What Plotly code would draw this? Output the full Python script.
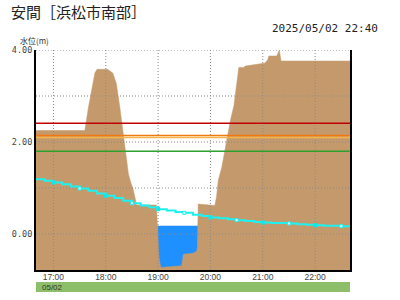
import plotly.graph_objects as go
import pandas as pd

DAY = "2025-05-02 "

# Brown profile (m)
bank_times = ["16:40", "17:36", "17:40", "17:44", "17:47:30", "17:50", "18:02", "18:08", "18:12", "18:16",
              "18:19", "18:22", "18:26", "18:29", "18:31", "18:34", "18:35", "18:58", "18:59:30", "19:01",
              "19:03", "19:17:30", "19:27", "19:29", "19:40", "19:44", "19:45", "19:46", "20:05", "20:07",
              "20:09", "20:13", "20:16", "20:19", "20:23", "20:27", "20:29", "20:31", "20:32:30", "20:38",
              "20:40", "20:57", "21:02", "21:05:30", "21:07", "21:16", "21:19", "21:20", "21:21", "22:40"]
bank_levels = [2.25, 2.25, 2.74, 3.13, 3.50, 3.58, 3.58, 3.50, 3.28, 2.77,
               2.33, 1.80, 1.30, 1.10, 1.00, 0.75, 0.63, 0.63, 0.0, -0.5,
               -0.73, -0.71, -0.69, -0.44, -0.42, -0.38, -0.30, 0.65, 0.62, 0.81,
               1.17, 1.45, 1.75, 2.10, 2.48, 2.80, 3.06, 3.42, 3.62, 3.62,
               3.65, 3.70, 3.71, 3.78, 3.87, 3.87, 4.0, 3.87, 3.76, 3.76]

# Blue water area
water_times = ["18:59", "19:46"]
water_levels = [0.18, 0.18]

# Cyan line (10-minute values)
tide_times = ["16:40", "16:50", "17:00", "17:10", "17:20", "17:30", "17:40", "17:50", "18:00", "18:10",
              "18:20", "18:30", "18:40", "18:50", "19:00", "19:10", "19:20", "19:30", "19:40", "19:50",
              "20:00", "20:10", "20:20", "20:30", "20:40", "20:50", "21:00", "21:10", "21:20", "21:30",
              "21:40", "21:50", "22:00", "22:10", "22:20", "22:30", "22:40"]
tide_levels = [1.19, 1.16, 1.12, 1.08, 1.03, 0.99, 0.94, 0.88, 0.83, 0.78,
               0.72, 0.67, 0.62, 0.58, 0.54, 0.51, 0.48, 0.46, 0.42, 0.39,
               0.36, 0.34, 0.32, 0.30, 0.28, 0.26, 0.25, 0.24, 0.24, 0.23,
               0.21, 0.20, 0.19, 0.18, 0.18, 0.17, 0.16]

# Reference levels (m) and colors
ref_levels = [2.41, 2.14, 2.10, 1.80]
ref_colors = ["#c00000", "#f07a10", "#f8b448", "#2ea02e"]

x_ticks = ["17:00", "18:00", "19:00", "20:00", "21:00", "22:00"]
y_grid = [0, 1, 2, 3, 4]
y_ticks = [0, 2, 4]
y_tick_text = ["0.00", "2.00", "4.00"]

X_START, X_END = "16:40", "22:40"
Y_MIN, Y_MAX = -0.783, 4.0

def ts(lst):
    return pd.to_datetime([DAY + t for t in lst], format="mixed")

bt, wt, tt = ts(bank_times), ts(water_times), ts(tide_times)
xs, xe = pd.Timestamp(DAY + X_START), pd.Timestamp(DAY + X_END)
xt = ts(x_ticks)

fig = go.Figure()

# water
fig.add_trace(go.Scatter(x=wt, y=[Y_MIN] * len(wt), mode="lines", line=dict(width=0), hoverinfo="skip"))
fig.add_trace(go.Scatter(x=wt, y=water_levels, mode="lines", line=dict(width=0),
                         fill="tonexty", fillcolor="#1e90ff"))
# brown
fig.add_trace(go.Scatter(x=bt, y=[Y_MIN] * len(bt), mode="lines", line=dict(width=0), hoverinfo="skip"))
fig.add_trace(go.Scatter(x=bt, y=bank_levels, mode="lines", line=dict(width=0.5, color="#c49a6c"),
                         fill="tonexty", fillcolor="#c49a6c"))

# gridlines above fills
gx, gy = [], []
for t in xt:
    gx += [t, t, None]
    gy += [Y_MIN, Y_MAX, None]
fig.add_trace(go.Scatter(x=gx, y=gy, mode="lines", line=dict(color="#8a8a8a", width=1, dash="1px,2px"),
                         hoverinfo="skip"))
hx, hy = [], []
for v in y_grid:
    hx += [xs, xe, None]
    hy += [v, v, None]
fig.add_trace(go.Scatter(x=hx, y=hy, mode="lines", line=dict(color="#8a8a8a", width=1, dash="1px,2px"),
                         hoverinfo="skip"))

# reference lines
for v, c in zip(ref_levels, ref_colors):
    fig.add_trace(go.Scatter(x=[xs, xe], y=[v, v], mode="lines", line=dict(color=c, width=1.5),
                             hoverinfo="skip"))

# cyan line
fig.add_trace(go.Scatter(x=tt, y=tide_levels, mode="lines", line=dict(color="#1ff0f0", width=2, shape="hv")))
hour_idx = [i for i, t in enumerate(tt) if t.minute == 0]
half_idx = [i for i, t in enumerate(tt) if t.minute == 30]
fig.add_trace(go.Scatter(x=[tt[i] for i in hour_idx], y=[tide_levels[i] for i in hour_idx], mode="markers",
                         marker=dict(symbol="square", size=4, color="#10e8e8", line=dict(width=0))))
fig.add_trace(go.Scatter(x=[tt[i] for i in half_idx], y=[tide_levels[i] for i in half_idx], mode="markers",
                         marker=dict(symbol="square", size=3, color="#e0fdfd",
                                     line=dict(color="#1ff0f0", width=1))))

fig.update_layout(
    width=400, height=300,
    margin=dict(l=30, r=50, t=50, b=30),
    paper_bgcolor="white", plot_bgcolor="white",
    showlegend=False,
    xaxis=dict(type="date", range=[xs, xe], tickvals=xt, ticktext=x_ticks, showgrid=False,
               showline=True, linecolor="black", linewidth=2, ticks="", zeroline=False,
               ticklabelstandoff=-2,
               tickfont=dict(family="Liberation Sans, Arial", size=8.5, color="#444")),
    yaxis=dict(range=[Y_MIN, Y_MAX], tickvals=y_ticks, ticktext=y_tick_text, showgrid=False,
               showline=True, mirror=True, linecolor="black", linewidth=2, ticks="", zeroline=False,
               tickfont=dict(family="DejaVu Sans Mono", size=8.5, color="#444")),
    shapes=[dict(type="rect", xref="paper", yref="paper", x0=0, x1=1, y0=-0.0545, y1=-0.1,
                 fillcolor="#8dbf6a", line=dict(width=0), layer="below")],
    annotations=[
        dict(text="安間［浜松市南部］", xref="paper", yref="paper", x=-0.0875, y=1.175,
             xanchor="left", yanchor="middle", showarrow=False,
             font=dict(family="Noto Sans CJK JP", size=15, color="#222")),
        dict(text="2025/05/02 22:40", xref="paper", yref="paper", x=1.094, y=1.0955,
             xanchor="right", yanchor="middle", showarrow=False,
             font=dict(family="DejaVu Sans Mono", size=11, color="#222")),
        dict(text="水位(m)", xref="paper", yref="paper", x=-0.056, y=1.041,
             xanchor="left", yanchor="middle", showarrow=False,
             font=dict(family="Noto Sans CJK JP", size=8, color="#333")),
        dict(text="05/02", xref="paper", yref="paper", x=0.012, y=-0.08,
             xanchor="left", yanchor="middle", showarrow=False,
             font=dict(family="Liberation Sans, Arial", size=8, color="#333")),
    ],
)

fig.write_html("out.html")
